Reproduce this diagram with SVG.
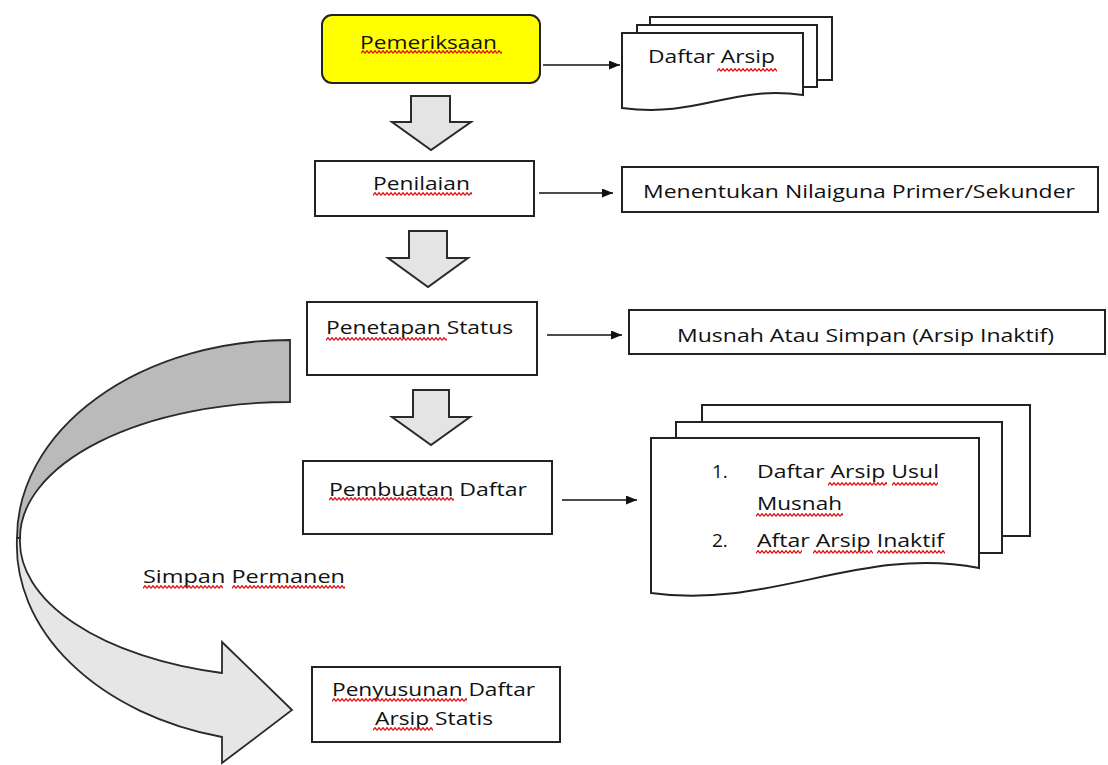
<svg xmlns="http://www.w3.org/2000/svg" width="1108" height="765" viewBox="0 0 1108 765">
<style>
.box{fill:#fff;stroke:#222;stroke-width:2}
.page{fill:#fff;stroke:#222;stroke-width:2}
.t{font-family:"Open Sans","Liberation Sans",sans-serif;font-size:19px;fill:#111}
.ln{stroke:#111;stroke-width:1.6;fill:none;marker-end:url(#ah)}
.down{fill:#e4e4e4;stroke:#2a2a2a;stroke-width:2;stroke-linejoin:miter}
.sq{fill:url(#sq)}
</style>
<defs>
<marker id="ah" markerWidth="11" markerHeight="9" refX="11" refY="4.5" orient="auto" markerUnits="userSpaceOnUse">
<path d="M0,0 L11,4.5 L0,9 Z" fill="#111"/>
</marker>
<pattern id="sq" width="4" height="4" patternUnits="userSpaceOnUse">
<path d="M0,3.3 L2,0.7 L4,3.3" stroke="#e01010" stroke-width="1.3" fill="none"/>
</pattern>
</defs>

<g id="connectors">
<line class="ln" x1="543" y1="65" x2="620" y2="65"/>
<line class="ln" x1="539" y1="193" x2="613" y2="193"/>
<line class="ln" x1="547" y1="335" x2="622" y2="335"/>
<line class="ln" x1="562" y1="500" x2="637" y2="500"/>
<path class="down" d="M411,96 H450 V122 H471 L431,150 L392,122 H411 Z"/>
<path class="down" d="M409,231 H447 V258 H468 L428,287 L388,258 H409 Z"/>
<path class="down" d="M413,390 H449 V417 H470 L431,445 L392,417 H413 Z"/>
<path d="M17,538 A273,198 0 0 0 222,737 L222,763 L292,710 L222,642 L222,673 A270,136 0 0 1 20,538 Z" fill="#e6e6e6" stroke="#2a2a2a" stroke-width="1.8"/>
<path d="M290,340 A273,198 0 0 0 17,538 L20,538 A270,136 0 0 1 290,402 Z" fill="#bababa" stroke="#2a2a2a" stroke-width="1.8"/>
</g>

<g id="pemeriksaan">
<rect x="322" y="15" width="218" height="68" rx="10" fill="#ffff00" stroke="#222" stroke-width="2"/>
<text class="t" x="360" y="49" textLength="137" lengthAdjust="spacingAndGlyphs">Pemeriksaan</text>
<rect class="sq" transform="translate(361,50)" width="141" height="4"/>
</g>

<g id="daftar-arsip">
<rect class="page" x="650" y="17" width="182" height="63"/>
<rect class="page" x="637" y="25" width="180" height="62"/>
<path class="page" d="M622,33 H803 V95 C730,85 700,118 622,108 Z"/>
<text class="t" x="648" y="63" textLength="127" lengthAdjust="spacingAndGlyphs">Daftar Arsip</text>
<rect class="sq" transform="translate(717,68)" width="60" height="4"/>
</g>

<g id="penilaian">
<rect class="box" x="315" y="161" width="219" height="55"/>
<text class="t" x="373" y="190" textLength="97" lengthAdjust="spacingAndGlyphs">Penilaian</text>
<rect class="sq" transform="translate(373,192)" width="99" height="4"/>
</g>

<g id="menentukan">
<rect class="box" x="622" y="167" width="476" height="45"/>
<text class="t" x="643" y="198" textLength="432" lengthAdjust="spacingAndGlyphs">Menentukan Nilaiguna Primer/Sekunder</text>
</g>

<g id="penetapan">
<rect class="box" x="307" y="302" width="230" height="73"/>
<text class="t" x="326" y="334" textLength="187" lengthAdjust="spacingAndGlyphs">Penetapan Status</text>
<rect class="sq" transform="translate(326,337)" width="121" height="4"/>
</g>

<g id="musnah">
<rect class="box" x="629" y="310" width="476" height="44"/>
<text class="t" x="677" y="342" textLength="377" lengthAdjust="spacingAndGlyphs">Musnah Atau Simpan (Arsip Inaktif)</text>
</g>

<g id="pembuatan">
<rect class="box" x="303" y="461" width="249" height="73"/>
<text class="t" x="329" y="496" textLength="198" lengthAdjust="spacingAndGlyphs">Pembuatan Daftar</text>
<rect class="sq" transform="translate(329,497)" width="125" height="4"/>
</g>

<g id="daftar-list">
<rect class="page" x="702" y="405" width="328" height="131"/>
<rect class="page" x="676" y="422" width="326" height="131"/>
<path class="page" d="M651,438 H979 V568 C860,545 770,610 651,593 Z"/>
<text class="t" x="712" y="478">1.</text>
<text class="t" x="757" y="478" textLength="182" lengthAdjust="spacingAndGlyphs">Daftar Arsip Usul</text>
<text class="t" x="757" y="510" textLength="85" lengthAdjust="spacingAndGlyphs">Musnah</text>
<text class="t" x="712" y="547">2.</text>
<text class="t" x="757" y="547" textLength="187" lengthAdjust="spacingAndGlyphs">Aftar Arsip Inaktif</text>
<rect class="sq" transform="translate(828,482)" width="59" height="4"/>
<rect class="sq" transform="translate(892,482)" width="46" height="4"/>
<rect class="sq" transform="translate(756,513)" width="87" height="4"/>
<rect class="sq" transform="translate(756,550)" width="46" height="4"/>
<rect class="sq" transform="translate(813,550)" width="60" height="4"/>
<rect class="sq" transform="translate(877,550)" width="68" height="4"/>
</g>

<g id="simpan-permanen">
<text class="t" x="143" y="583" textLength="202" lengthAdjust="spacingAndGlyphs">Simpan Permanen</text>
<rect class="sq" transform="translate(143,585)" width="80" height="4"/>
<rect class="sq" transform="translate(232,585)" width="113" height="4"/>
</g>

<g id="penyusunan">
<rect class="box" x="312" y="667" width="248" height="75"/>
<text class="t" x="332" y="696" textLength="203" lengthAdjust="spacingAndGlyphs">Penyusunan Daftar</text>
<text class="t" x="375" y="725" textLength="118" lengthAdjust="spacingAndGlyphs">Arsip Statis</text>
<rect class="sq" transform="translate(332,698)" width="135" height="4"/>
<rect class="sq" transform="translate(373,727)" width="60" height="4"/>
</g>
</svg>
